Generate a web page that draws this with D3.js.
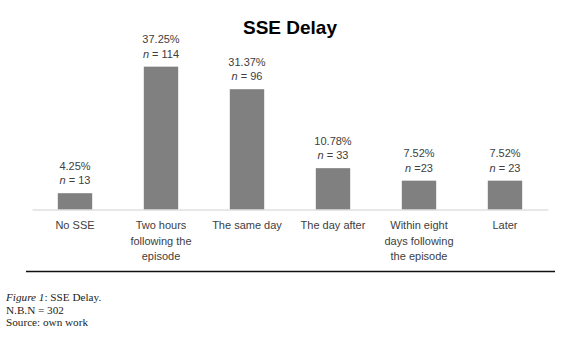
<!DOCTYPE html>
<html>
<head>
<meta charset="utf-8">
<script src="https://cdn.jsdelivr.net/npm/d3@7"></script>
<style>
  body { margin: 0; background: #fff; }
  svg { display: block; }
  .cap { font-family: "Liberation Serif", serif; font-size: 11.2px; fill: #222; }
</style>
</head>
<body>
<div id="chart"></div>
<script>
// values
const categories = ["No SSE", "Two hours following the episode", "The same day", "The day after", "Within eight days following the episode", "Later"];
const catLines = [["No SSE"], ["Two hours", "following the", "episode"], ["The same day"], ["The day after"], ["Within eight", "days following", "the episode"], ["Later"]];
const percents = [4.25, 37.25, 31.37, 10.78, 7.52, 7.52];
const counts = ["n = 13", "n = 114", "n = 96", "n = 33", "n =23", "n = 23"];

const width = 580;
const height = 338;
const textColor = "#404040";

const svg = d3.select("#chart")
    .append("svg")
    .attr("width", width)
    .attr("height", height);

//title
svg.append("text")
    .text("SSE Delay")
    .attr("x", 290)
    .attr("y", 34)
    .attr("text-anchor", "middle")
    .attr("font-family", "Liberation Sans, sans-serif")
    .attr("font-weight", "bold")
    .style("font-size", "19px")
    .attr("fill", "#000");

const xScale = d3.scaleBand()
    .domain(categories)
    .range([32, 548])
    .paddingInner(0.6)
    .paddingOuter(0.3);

const yScale = d3.scaleLinear()
    .domain([0, 40])
    .range([209.5, 56.1]);

const data = categories.map((c, i) => ({cat: c, pct: percents[i], n: counts[i], lines: catLines[i]}));

//bars
svg.selectAll("rect.bar")
    .data(data)
    .join("rect")
        .attr("class", "bar")
        .attr("x", d => xScale(d.cat))
        .attr("y", d => yScale(d.pct))
        .attr("width", xScale.bandwidth())
        .attr("height", d => yScale(0) - yScale(d.pct))
        .attr("fill", "#808080");

//x axis, no ticks, labels wrapped
const bottomAxis = d3.axisBottom(xScale).tickSize(0).tickPadding(0).tickFormat("");
const axisG = svg.append("g")
    .attr("transform", `translate(0, ${yScale(0)})`)
    .call(bottomAxis);
axisG.select(".domain").attr("stroke", "#d0d0d0").attr("stroke-width", 1);

const labels = svg.append("g").attr("class", "cat-labels")
    .selectAll("text")
    .data(data)
    .join("text")
        .attr("x", d => xScale(d.cat) + xScale.bandwidth() / 2)
        .attr("y", 229)
        .attr("text-anchor", "middle")
        .attr("font-family", "Liberation Sans, sans-serif")
        .style("font-size", "11px")
        .attr("fill", textColor);

labels.selectAll("tspan")
    .data(d => d.lines.map(l => ({l, x: xScale(d.cat) + xScale.bandwidth() / 2})))
    .join("tspan")
        .attr("x", d => d.x)
        .attr("dy", (d, i) => i == 0 ? 0 : 15.5)
        .text(d => d.l);

//value labels
svg.selectAll("text.pct")
    .data(data)
    .join("text")
        .attr("class", "pct")
        .attr("x", d => xScale(d.cat) + xScale.bandwidth() / 2)
        .attr("y", d => yScale(d.pct) - 23.5)
        .attr("text-anchor", "middle")
        .attr("font-family", "Liberation Sans, sans-serif")
        .style("font-size", "11px")
        .attr("fill", textColor)
        .text(d => d.pct.toFixed(2) + "%");

const nLabels = svg.selectAll("text.nlab")
    .data(data)
    .join("text")
        .attr("class", "nlab")
        .attr("x", d => xScale(d.cat) + xScale.bandwidth() / 2)
        .attr("y", d => yScale(d.pct) - 9)
        .attr("text-anchor", "middle")
        .attr("font-family", "Liberation Sans, sans-serif")
        .style("font-size", "11px")
        .attr("fill", textColor);
nLabels.append("tspan").attr("font-style", "italic").text("n");
nLabels.append("tspan").text(d => d.n.slice(1));

//black rule under the chart
svg.append("line")
    .attr("x1", 26)
    .attr("x2", 555)
    .attr("y1", 271.5)
    .attr("y2", 271.5)
    .attr("stroke", "#111")
    .attr("stroke-width", 1.5);

//caption
const c1 = svg.append("text").attr("class", "cap").attr("x", 6).attr("y", 301);
c1.append("tspan").attr("font-style", "italic").text("Figure 1");
c1.append("tspan").text(": SSE Delay.");
svg.append("text").attr("class", "cap").attr("x", 6).attr("y", 313.5).text("N.B.N = 302");
svg.append("text").attr("class", "cap").attr("x", 6).attr("y", 326).text("Source: own work");
</script>
</body>
</html>
